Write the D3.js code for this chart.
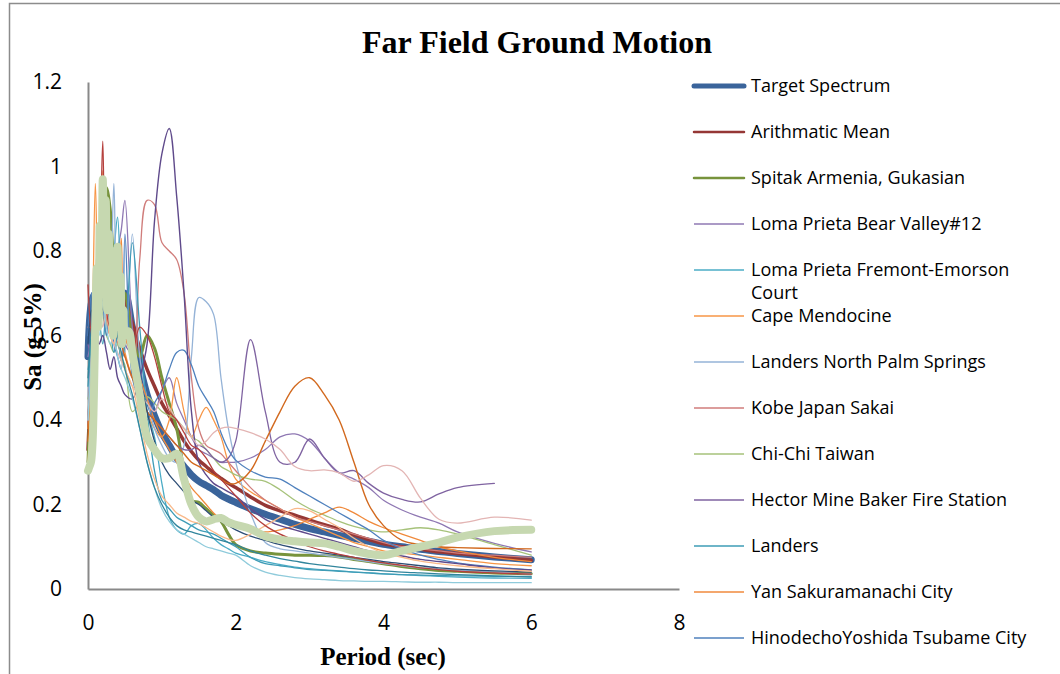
<!DOCTYPE html>
<html>
<head>
<meta charset="utf-8">
<script src="https://cdn.jsdelivr.net/npm/d3@7"></script>
<style>
  html, body { margin: 0; padding: 0; background: #fff; }
  svg { display: block; }
</style>
</head>
<body>
<svg id="chart" width="1060" height="674"></svg>
<script>
// Spectral periods (sec) shared by most records
const periods = [0,0.05,0.1,0.15,0.2,0.25,0.3,0.35,0.4,0.45,0.5,0.6,0.7,0.8,0.9,1.0,1.1,1.2,1.3,1.4,1.5,1.6,1.7,1.8,1.9,2.0,2.2,2.4,2.6,2.8,3.0,3.2,3.4,3.6,3.8,4.0,4.25,4.5,4.75,5.0,5.5,6.0];
// Finer sampling used for record 22 in the short-period range
const periodsFine = [0,0.02,0.04,0.06,0.08,0.1,0.12,0.14,0.16,0.18,0.2,0.22,0.24,0.26,0.28,0.3,0.32,0.34,0.36,0.38,0.4,0.42,0.44,0.46,0.48,0.5,0.55,0.6,0.7,0.8,0.9,1.0,1.1,1.2,1.3,1.4,1.5,1.6,1.7,1.8,1.9,2.0,2.2,2.4,2.6,2.8,3.0,3.2,3.4,3.6,3.8,4.0,4.25,4.5,4.75,5.0,5.5,6.0];

// Spectral accelerations Sa (g), 5% damping
const targetSpectrum = [0.55,0.68,0.70,0.70,0.70,0.70,0.70,0.70,0.70,0.70,0.70,0.62,0.53,0.46,0.41,0.37,0.34,0.31,0.29,0.27,0.255,0.245,0.235,0.222,0.213,0.205,0.19,0.177,0.165,0.153,0.143,0.135,0.127,0.12,0.113,0.106,0.10,0.094,0.089,0.084,0.076,0.069];
const arithmaticMean = [0.33,0.52,0.64,0.70,0.74,0.72,0.73,0.71,0.70,0.69,0.68,0.63,0.57,0.52,0.48,0.44,0.41,0.38,0.35,0.325,0.305,0.29,0.275,0.262,0.25,0.24,0.218,0.198,0.185,0.175,0.163,0.152,0.142,0.128,0.117,0.107,0.10,0.094,0.088,0.084,0.076,0.068];
const spitakArmenia = [0.30,0.52,0.66,0.80,0.88,0.95,0.90,0.76,0.70,0.66,0.70,0.60,0.55,0.60,0.57,0.50,0.44,0.38,0.28,0.21,0.205,0.19,0.175,0.16,0.13,0.105,0.09,0.085,0.082,0.08,0.08,0.079,0.076,0.07,0.065,0.06,0.053,0.048,0.044,0.042,0.038,0.036];
const lomaBearValley = [0.55,0.60,0.72,0.65,0.78,0.70,0.66,0.74,0.80,0.85,0.92,0.62,0.50,0.45,0.42,0.47,0.50,0.44,0.40,0.36,0.33,0.32,0.31,0.30,0.30,0.30,0.31,0.33,0.36,0.367,0.35,0.31,0.275,0.26,0.24,0.21,0.187,0.17,0.156,0.135,0.108,0.088];
const lomaFremont = [0.52,0.58,0.66,0.62,0.72,0.68,0.74,0.80,0.88,0.70,0.62,0.55,0.48,0.42,0.36,0.25,0.17,0.14,0.13,0.15,0.155,0.14,0.12,0.105,0.095,0.085,0.075,0.065,0.058,0.052,0.048,0.045,0.043,0.04,0.038,0.036,0.034,0.032,0.03,0.028,0.026,0.025];
const capeMendocine = [0.40,0.55,0.96,0.62,0.70,0.66,0.60,0.64,0.58,0.62,0.56,0.50,0.46,0.42,0.38,0.36,0.40,0.50,0.42,0.36,0.40,0.43,0.40,0.36,0.30,0.26,0.23,0.21,0.19,0.17,0.155,0.14,0.125,0.11,0.10,0.09,0.085,0.08,0.075,0.07,0.06,0.055];
const landersPalmSprings = [0.45,0.58,0.70,0.75,0.68,0.80,0.70,0.96,0.64,0.60,0.56,0.84,0.55,0.45,0.38,0.34,0.31,0.30,0.34,0.55,0.69,0.68,0.65,0.50,0.38,0.30,0.18,0.11,0.095,0.09,0.085,0.08,0.075,0.07,0.065,0.06,0.055,0.05,0.047,0.045,0.04,0.035];
const kobeSakai = [0.62,0.62,0.70,0.66,0.72,0.64,0.60,0.62,0.58,0.56,0.55,0.50,0.78,0.92,0.91,0.82,0.80,0.78,0.70,0.50,0.38,0.34,0.33,0.32,0.30,0.28,0.24,0.21,0.19,0.17,0.16,0.15,0.14,0.13,0.12,0.11,0.10,0.095,0.09,0.085,0.08,0.075];
const chiChiTaiwan = [0.45,0.50,0.62,0.70,0.65,0.60,0.58,0.56,0.58,0.55,0.53,0.42,0.44,0.455,0.44,0.42,0.41,0.40,0.38,0.36,0.35,0.33,0.31,0.29,0.28,0.27,0.26,0.255,0.235,0.21,0.19,0.175,0.16,0.148,0.14,0.135,0.14,0.145,0.14,0.13,0.105,0.08];
const hectorMine = [0.58,0.55,0.65,0.72,0.68,0.75,0.70,0.62,0.60,0.66,0.58,0.55,0.48,0.42,0.40,0.38,0.36,0.34,0.33,0.33,0.34,0.33,0.31,0.30,0.31,0.35,0.59,0.42,0.30,0.30,0.355,0.31,0.275,0.28,0.25,0.227,0.212,0.206,0.225,0.24,0.25,null];
const landers = [0.48,0.60,0.68,0.64,0.58,0.66,0.62,0.56,0.60,0.54,0.58,0.82,0.62,0.42,0.28,0.21,0.19,0.17,0.16,0.15,0.14,0.135,0.13,0.12,0.11,0.10,0.075,0.06,0.055,0.05,0.046,0.044,0.042,0.04,0.038,0.036,0.034,0.033,0.032,0.031,0.03,0.03];
const yanSakuramanachi = [0.38,0.52,0.66,0.80,0.99,0.62,0.70,0.64,0.66,0.83,0.60,0.55,0.50,0.45,0.40,0.36,0.33,0.30,0.27,0.24,0.22,0.20,0.18,0.165,0.155,0.15,0.14,0.135,0.14,0.15,0.165,0.18,0.194,0.18,0.16,0.145,0.13,0.115,0.10,0.09,0.075,0.065];
const hinodechoYoshida = [0.60,0.70,0.62,0.75,0.68,0.60,0.66,0.58,0.55,0.52,0.84,0.50,0.44,0.40,0.44,0.47,0.52,0.56,0.565,0.53,0.48,0.45,0.42,0.37,0.33,0.305,0.28,0.265,0.26,0.24,0.22,0.20,0.18,0.16,0.14,0.115,0.095,0.08,0.07,0.062,0.052,0.045];
const record14 = [0.40,0.55,0.62,0.58,0.60,0.56,0.52,0.55,0.50,0.48,0.46,0.45,0.50,0.58,0.87,1.03,1.09,0.93,0.70,0.42,0.30,0.27,0.25,0.24,0.23,0.22,0.19,0.165,0.15,0.14,0.13,0.12,0.11,0.10,0.09,0.085,0.078,0.07,0.065,0.06,0.05,0.045];
const record15 = [0.35,0.50,0.72,0.85,0.78,0.70,0.75,0.66,0.62,0.58,0.55,0.50,0.46,0.42,0.40,0.38,0.36,0.34,0.32,0.30,0.29,0.28,0.27,0.26,0.25,0.25,0.28,0.35,0.42,0.48,0.50,0.46,0.40,0.30,0.20,0.15,0.115,0.105,0.10,0.098,0.096,0.095];
const record16 = [0.40,0.55,0.65,0.70,0.62,0.66,0.60,0.58,0.56,0.54,0.52,0.48,0.46,0.44,0.42,0.45,0.43,0.40,0.38,0.36,0.34,0.35,0.37,0.38,0.383,0.38,0.37,0.355,0.33,0.29,0.28,0.282,0.275,0.255,0.27,0.292,0.28,0.215,0.165,0.156,0.17,0.163];
const record17 = [0.58,0.66,0.62,0.70,0.66,0.72,0.64,0.68,0.62,0.70,0.60,0.58,0.50,0.42,0.35,0.30,0.27,0.25,0.23,0.21,0.20,0.185,0.17,0.16,0.15,0.14,0.125,0.115,0.105,0.097,0.09,0.085,0.08,0.075,0.07,0.065,0.06,0.055,0.05,0.047,0.043,0.04];
const record18 = [0.40,0.55,0.64,0.60,0.68,0.62,0.58,0.60,0.55,0.52,0.50,0.45,0.38,0.30,0.24,0.19,0.16,0.14,0.13,0.12,0.11,0.10,0.095,0.09,0.085,0.08,0.055,0.04,0.032,0.027,0.024,0.022,0.02,0.019,0.018,0.018,0.017,0.016,0.016,0.015,0.015,0.015];
const record19 = [0.30,0.45,0.60,0.72,0.85,0.66,0.60,0.58,0.62,0.55,0.52,0.48,0.40,0.32,0.26,0.22,0.20,0.18,0.17,0.16,0.155,0.145,0.135,0.125,0.118,0.115,0.13,0.15,0.17,0.19,0.185,0.165,0.145,0.12,0.10,0.085,0.075,0.066,0.06,0.055,0.048,0.042];
const record20 = [0.72,0.60,0.68,0.75,1.06,0.66,0.62,0.64,0.60,0.58,0.62,0.56,0.62,0.60,0.55,0.48,0.42,0.40,0.37,0.34,0.33,0.31,0.28,0.26,0.24,0.22,0.18,0.15,0.13,0.115,0.10,0.09,0.082,0.075,0.068,0.062,0.056,0.05,0.046,0.042,0.038,0.035];
const record21 = [0.50,0.62,0.70,0.66,0.74,0.70,0.64,0.66,0.60,0.56,0.52,0.46,0.38,0.30,0.24,0.20,0.17,0.15,0.14,0.135,0.13,0.125,0.12,0.115,0.11,0.105,0.09,0.08,0.072,0.066,0.06,0.056,0.052,0.048,0.045,0.043,0.04,0.038,0.036,0.034,0.031,0.028];
const record22 = [0.28,0.29,0.30,0.34,0.46,0.64,0.76,0.62,0.86,0.72,0.97,0.78,0.92,0.66,0.84,0.68,0.76,0.60,0.80,0.64,0.81,0.62,0.74,0.58,0.66,0.60,0.61,0.56,0.46,0.36,0.33,0.31,0.31,0.32,0.26,0.20,0.17,0.16,0.165,0.168,0.158,0.152,0.142,0.125,0.117,0.113,0.11,0.108,0.10,0.09,0.083,0.08,0.09,0.10,0.11,0.122,0.137,0.14];

// Axis ticks
const xTicks = [0, 2, 4, 6, 8];
const yTicks = [0, 0.2, 0.4, 0.6, 0.8, 1, 1.2];

// Series in drawing order; the first thirteen appear in the legend
const series = [
  { name: "Target Spectrum", values: targetSpectrum, color: "#3A649B", width: 7, legendWidth: 5 },
  { name: "Arithmatic Mean", values: arithmaticMean, color: "#953735", width: 3.5, legendWidth: 2.5 },
  { name: "Spitak Armenia, Gukasian", values: spitakArmenia, color: "#77933C", width: 3, legendWidth: 2.5 },
  { name: "Loma Prieta Bear Valley#12", values: lomaBearValley, color: "#8F78B3", width: 1.3 },
  { name: "Loma Prieta Fremont-Emorson Court", values: lomaFremont, color: "#4BACC6", width: 1.3 },
  { name: "Cape Mendocine", values: capeMendocine, color: "#F79646", width: 1.3 },
  { name: "Landers North Palm Springs", values: landersPalmSprings, color: "#95B3D7", width: 1.3 },
  { name: "Kobe Japan Sakai", values: kobeSakai, color: "#D07D7B", width: 1.3 },
  { name: "Chi-Chi Taiwan", values: chiChiTaiwan, color: "#A6C27A", width: 1.3 },
  { name: "Hector Mine Baker Fire Station", values: hectorMine, color: "#7F63A1", width: 1.3 },
  { name: "Landers", values: landers, color: "#3E9CB6", width: 1.3 },
  { name: "Yan Sakuramanachi City", values: yanSakuramanachi, color: "#F08A3C", width: 1.3 },
  { name: "HinodechoYoshida Tsubame City", values: hinodechoYoshida, color: "#4F81BD", width: 1.3 },
  { name: "Record 14", values: record14, color: "#5F4A8B", width: 1.4 },
  { name: "Record 15", values: record15, color: "#D2691E", width: 1.4 },
  { name: "Record 16", values: record16, color: "#E3B5B4", width: 1.3 },
  { name: "Record 17", values: record17, color: "#2C4D75", width: 1.3 },
  { name: "Record 18", values: record18, color: "#8FCBDB", width: 1.3 },
  { name: "Record 19", values: record19, color: "#F9B98A", width: 1.3 },
  { name: "Record 20", values: record20, color: "#B5403D", width: 1.3 },
  { name: "Record 21", values: record21, color: "#31859C", width: 1.3 },
  { name: "Record 22", values: record22, periods: periodsFine, color: "#C6D8B0", width: 8 }
];
const legendCount = 13;

const svg = d3.select("#chart");
const serif = "'Liberation Serif', 'Times New Roman', serif";
const sans = "'Open Sans', Lato, sans-serif";

// outer chart frame
svg.append("path")
  .attr("d", "M9.5,700V3.5H1070")
  .attr("fill", "none")
  .attr("stroke", "#8c8c8c")
  .attr("stroke-width", 1.5);

const x = d3.scaleLinear().domain([0, 8]).range([88, 679]);
const y = d3.scaleLinear().domain([0, 1.2]).range([589, 82]);

// title
svg.append("text")
  .attr("x", 537).attr("y", 53)
  .attr("text-anchor", "middle")
  .attr("font-family", serif).attr("font-weight", "bold")
  .attr("font-size", 32)
  .text("Far Field Ground Motion");

// axes
const yAxis = svg.append("g")
  .attr("transform", `translate(${x(0)},0)`)
  .call(d3.axisLeft(y).tickValues(yTicks).tickSize(0).tickSizeOuter(0).tickPadding(26).tickFormat(d => String(d)));
const xAxis = svg.append("g")
  .attr("transform", `translate(0,${y(0)})`)
  .call(d3.axisBottom(x).tickValues(xTicks).tickSize(0).tickSizeOuter(0).tickPadding(26).tickFormat(d => String(d)));
[xAxis, yAxis].forEach(g => {
  g.select(".domain").attr("stroke", "#898989").attr("stroke-width", 2);
  g.selectAll("text").attr("font-family", sans).attr("font-size", 21).attr("fill", "#000");
});

// axis titles
svg.append("text")
  .attr("x", 383).attr("y", 665)
  .attr("text-anchor", "middle")
  .attr("font-family", serif).attr("font-weight", "bold")
  .attr("font-size", 25)
  .text("Period (sec)");
svg.append("text")
  .attr("transform", "translate(41,337) rotate(-90)")
  .attr("text-anchor", "middle")
  .attr("font-family", serif).attr("font-weight", "bold")
  .attr("font-size", 25)
  .text("Sa (g-5%)");

// spectra, smoothed like the spreadsheet's curved lines
const line = d3.line()
  .defined(d => d[1] != null)
  .x(d => x(d[0]))
  .y(d => y(d[1]))
  .curve(d3.curveCatmullRom.alpha(0.5));

svg.append("g")
  .selectAll("path")
  .data(series)
  .join("path")
  .attr("fill", "none")
  .attr("stroke", d => d.color)
  .attr("stroke-width", d => d.width)
  .attr("stroke-linejoin", "round")
  .attr("stroke-linecap", "round")
  .attr("d", d => {
    const per = d.periods || periods;
    return line(d.values.map((v, i) => [per[i], v]));
  });

// legend
const legend = svg.append("g");
series.slice(0, legendCount).forEach((s, i) => {
  const yc = 86 + 46 * i;
  legend.append("line")
    .attr("x1", 694).attr("x2", 744)
    .attr("y1", yc).attr("y2", yc)
    .attr("stroke", s.color)
    .attr("stroke-width", s.legendWidth || 1.5)
    .attr("stroke-linecap", s.legendWidth ? "round" : "butt");
  const t = legend.append("text")
    .attr("x", 751).attr("y", yc)
    .attr("dy", "0.35em")
    .attr("font-family", sans).attr("font-size", 18)
    .attr("fill", "#000");
  // wrap long names onto a second line
  const words = s.name.split(" ");
  let current = [];
  let ts = t.append("tspan").attr("x", 751);
  words.forEach(w => {
    current.push(w);
    ts.text(current.join(" "));
    if (ts.node().getComputedTextLength() > 300 && current.length > 1) {
      current.pop();
      ts.text(current.join(" "));
      current = [w];
      ts = t.append("tspan").attr("x", 751).attr("dy", 23).text(w);
    }
  });
});
</script>
</body>
</html>
